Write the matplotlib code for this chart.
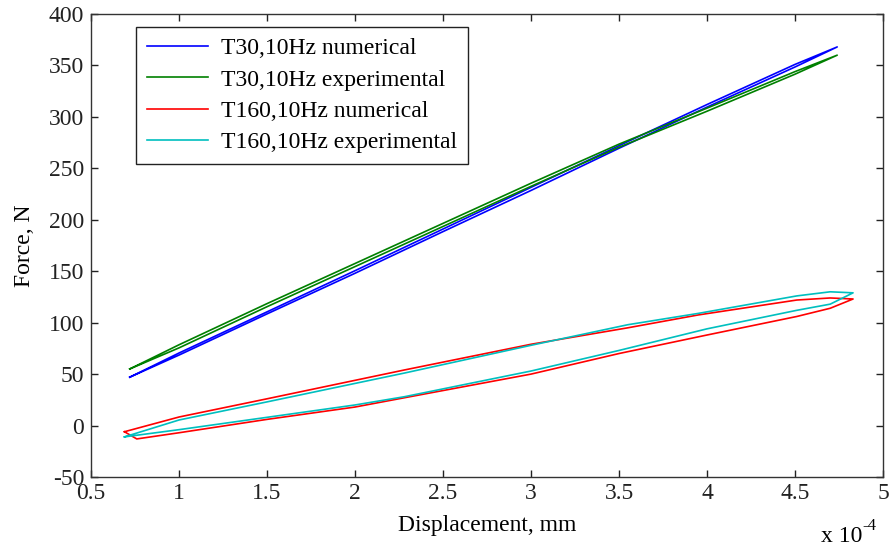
import numpy as np
import matplotlib
matplotlib.use("Agg")
import matplotlib.pyplot as plt
from matplotlib.ticker import FuncFormatter, MultipleLocator

plt.rcParams['font.family'] = ['Liberation Serif', 'DejaVu Serif']
plt.rcParams['axes.unicode_minus'] = False

SCALE = 1e-4  # displacement multiplier shown as "x 10^-4"

# T30, 10Hz numerical (blue) -- loading branch then unloading branch (x in 1e-4 mm)
t30_num_x_load = [0.72, 1.0, 1.5, 2.0, 2.5, 3.0, 3.5, 4.0, 4.5, 4.74]
t30_num_y_load = [47, 68.5, 108.5, 148, 188.5, 228.5, 269.5, 309.5, 348.5, 368]
t30_num_x_unload = [4.74, 4.5, 4.0, 3.5, 3.0, 2.5, 2.0, 1.5, 1.0, 0.72]
t30_num_y_unload = [368, 351, 312, 272, 231.5, 191, 150.5, 110.5, 70.5, 47]

# T30, 10Hz experimental (green)
t30_exp_x_load = [0.72, 1.0, 1.5, 2.0, 2.5, 3.0, 3.5, 4.0, 4.5, 4.74]
t30_exp_y_load = [55, 75.5, 115.5, 154.5, 193.5, 232.5, 270.5, 305.5, 341.5, 360]
t30_exp_x_unload = [4.74, 4.5, 4.0, 3.5, 3.0, 2.5, 2.0, 1.5, 1.0, 0.72]
t30_exp_y_unload = [360, 344, 308.5, 273.5, 235.5, 196.5, 157.5, 118.5, 78.5, 55]

# T160, 10Hz numerical (red)
t160_num_x_load = [0.69, 0.76, 1.0, 1.5, 2.0, 2.28, 3.0, 3.5, 4.0, 4.51, 4.70, 4.83]
t160_num_y_load = [-6, -13, -7, 6, 18, 27, 50, 70, 88, 106, 114, 123]
t160_num_x_unload = [4.83, 4.70, 4.51, 3.95, 3.55, 3.0, 2.28, 1.5, 1.0, 0.69]
t160_num_y_unload = [123, 124, 122, 107.5, 95, 79, 54, 26, 8.3, -6]

# T160, 10Hz experimental (cyan)
t160_exp_x_load = [0.69, 1.0, 1.5, 2.0, 2.28, 3.0, 3.5, 4.0, 4.51, 4.70, 4.83]
t160_exp_y_load = [-11, -4, 8, 20, 28, 53, 73, 94, 112, 118, 129]
t160_exp_x_unload = [4.83, 4.70, 4.51, 3.95, 3.55, 3.0, 2.28, 1.5, 1.0, 0.69]
t160_exp_y_unload = [129, 130, 126, 109, 98, 78, 51, 23, 5.4, -11]

labels = ["T30,10Hz numerical", "T30,10Hz experimental",
          "T160,10Hz numerical", "T160,10Hz experimental"]
colors = ["#0000ff", "#008000", "#ff0000", "#00bfbf"]

series = [
    (t30_num_x_load + t30_num_x_unload, t30_num_y_load + t30_num_y_unload),
    (t30_exp_x_load + t30_exp_x_unload, t30_exp_y_load + t30_exp_y_unload),
    (t160_num_x_load + t160_num_x_unload, t160_num_y_load + t160_num_y_unload),
    (t160_exp_x_load + t160_exp_x_unload, t160_exp_y_load + t160_exp_y_unload),
]

FS = 17

fig = plt.figure(figsize=(8.9, 5.51), dpi=100)
ax = fig.add_axes([91 / 890, 74 / 551, 792 / 890, 463 / 551])

for (xs, ys), lab, c in zip(series, labels, colors):
    ax.plot(np.array(xs) * SCALE, ys, color=c, lw=1.2, label=lab)

ax.set_xlim(0.5 * SCALE, 5 * SCALE)
ax.set_ylim(-50, 400)
ax.xaxis.set_major_locator(MultipleLocator(0.5 * SCALE))
ax.yaxis.set_major_locator(MultipleLocator(50))
ax.xaxis.set_major_formatter(FuncFormatter(lambda v, p: f"{v / SCALE:g}"))
ax.yaxis.set_major_formatter(FuncFormatter(lambda v, p: f"{v:g}"))
ax.tick_params(direction='in', top=True, right=True, length=5, width=1,
               labelsize=FS, colors='#222222', pad=5)
ax.tick_params(axis='x', pad=4)
for s in ax.spines.values():
    s.set_color('#333333')
    s.set_linewidth(1.0)

ax.set_xlabel("Displacement, mm", fontsize=FS, labelpad=8)
ax.set_ylabel("Force, N", fontsize=FS, labelpad=10)

# multiplier "x 10^-4" at lower right
fig.text(862 / 890, 4 / 551, "x 10", ha='right', va='bottom', fontsize=FS)
fig.text(862 / 890, 17 / 551, "-4", ha='left', va='bottom', fontsize=12)

leg = ax.legend(loc='upper left', bbox_to_anchor=(45 / 792, 450 / 463), borderaxespad=0,
                fontsize=FS, frameon=True, fancybox=False, framealpha=1,
                edgecolor='#222222', handlelength=2.6, labelspacing=0.42,
                borderpad=0.45, handletextpad=0.55)
leg.get_frame().set_linewidth(1.0)

fig.savefig("out.png", dpi=100)
